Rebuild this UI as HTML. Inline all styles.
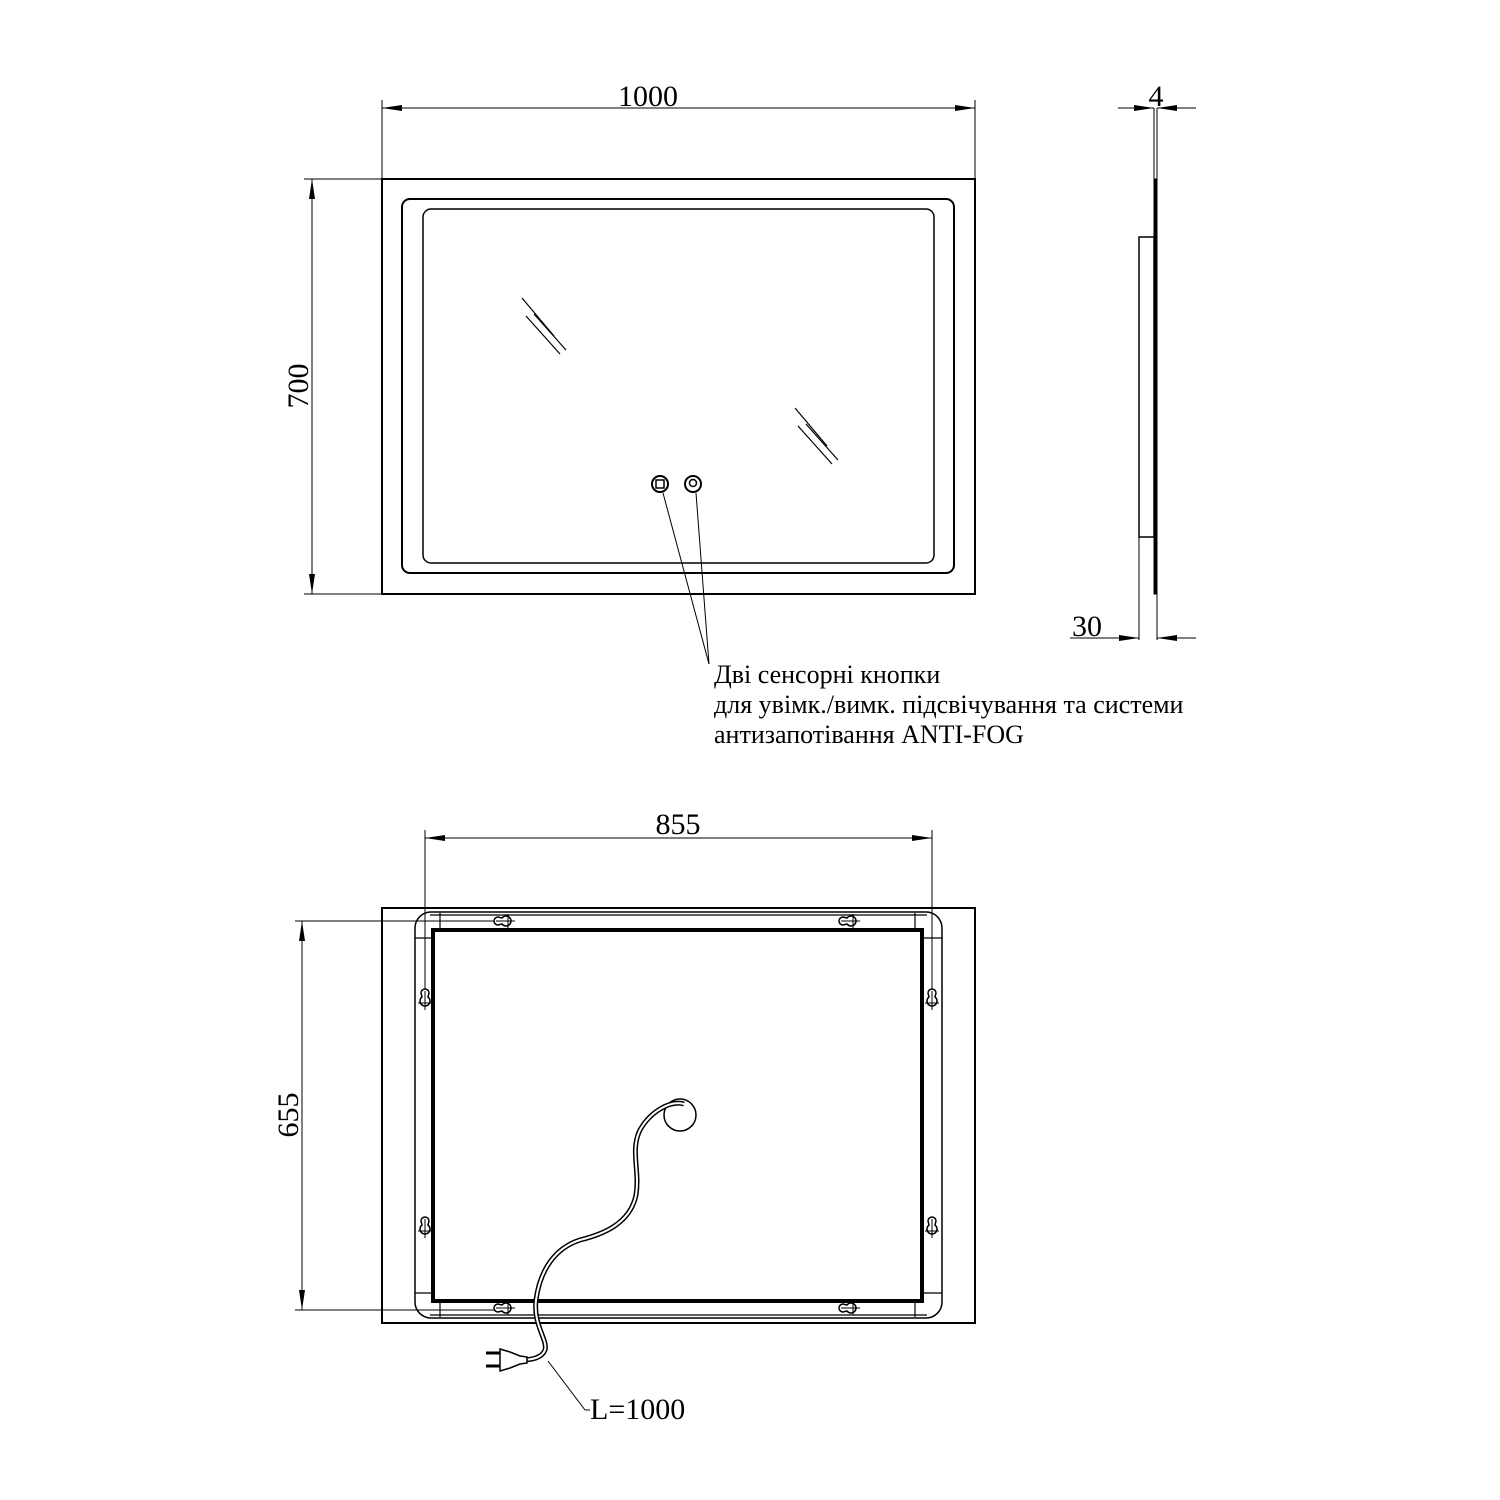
<!DOCTYPE html>
<html><head><style>html,body{margin:0;padding:0;background:#fff}svg{display:block}text{font-family:"Liberation Serif",serif;fill:#000}</style></head><body>
<svg width="1500" height="1500" viewBox="0 0 1500 1500" xmlns="http://www.w3.org/2000/svg">
<defs>
<marker id="a" viewBox="0 0 20 6" refX="20" refY="3" markerWidth="20" markerHeight="6" orient="auto-start-reverse" markerUnits="userSpaceOnUse"><path d="M0,0 L20,3 L0,6z" fill="#000"/></marker>
<g id="kh"><path d="M-4,-7 a4,4 0 0 1 8,0 l-1,4 a5,5 0 1 1 -6,0z" fill="#fff" stroke="#000" stroke-width="1.5"/><line x1="0" y1="-9" x2="0" y2="10" stroke="#000" stroke-width="1"/><line x1="-7" y1="3" x2="7" y2="3" stroke="#000" stroke-width="1"/></g>
</defs>
<g fill="none" stroke="#000">
<rect x="382" y="179" width="593" height="415" stroke-width="2"/>
<rect x="402" y="199" width="552" height="374" rx="8" stroke-width="2"/>
<rect x="423" y="209" width="511" height="354" rx="8" stroke-width="1.5"/>
<g stroke-width="1.2">
<line x1="522" y1="298" x2="554" y2="336"/><line x1="526" y1="316" x2="560" y2="354"/><line x1="534" y1="314" x2="566" y2="350"/>
<line x1="795" y1="408" x2="827" y2="446"/><line x1="798" y1="426" x2="832" y2="464"/><line x1="806" y1="424" x2="838" y2="460"/>
</g>
<circle cx="660" cy="484" r="8" stroke-width="2"/><rect x="656" y="480" width="8" height="8" stroke-width="1.5"/>
<circle cx="693" cy="484" r="8" stroke-width="2"/><circle cx="693" cy="483" r="3.5" stroke-width="1.5"/>
<line x1="663" y1="493" x2="709" y2="664" stroke-width="1"/><line x1="696" y1="493" x2="709" y2="664" stroke-width="1"/>
<line x1="382" y1="100" x2="382" y2="179" stroke-width="1"/><line x1="975" y1="100" x2="975" y2="179" stroke-width="1"/>
<line x1="382" y1="108" x2="975" y2="108" stroke-width="1" marker-start="url(#a)" marker-end="url(#a)"/>
<line x1="304" y1="179" x2="382" y2="179" stroke-width="1"/><line x1="304" y1="594" x2="382" y2="594" stroke-width="1"/>
<line x1="312" y1="179" x2="312" y2="594" stroke-width="1" marker-start="url(#a)" marker-end="url(#a)"/>
<line x1="1154" y1="108" x2="1154" y2="179" stroke-width="1"/><line x1="1157" y1="108" x2="1157" y2="179" stroke-width="1"/>
<rect x="1154" y="179" width="3" height="415" fill="#000" stroke-width="1"/>
<rect x="1139" y="237" width="15" height="300" stroke-width="1.5"/>
<line x1="1139" y1="537" x2="1139" y2="640" stroke-width="1"/><line x1="1157" y1="594" x2="1157" y2="640" stroke-width="1"/>
<line x1="1118" y1="108" x2="1154" y2="108" stroke-width="1" marker-end="url(#a)"/>
<line x1="1196" y1="108" x2="1157" y2="108" stroke-width="1" marker-end="url(#a)"/>
<line x1="1070" y1="638" x2="1139" y2="638" stroke-width="1" marker-end="url(#a)"/>
<line x1="1196" y1="638" x2="1157" y2="638" stroke-width="1" marker-end="url(#a)"/>
<rect x="382" y="908" width="593" height="415" stroke-width="2"/>
<rect x="415" y="912" width="527" height="406" rx="16" stroke-width="1.5"/>
<line x1="430" y1="915" x2="927" y2="915" stroke-width="1.2"/>
<line x1="430" y1="1315" x2="927" y2="1315" stroke-width="1.2"/>
<rect x="433" y="930" width="489" height="371" stroke-width="4"/>
<line x1="440" y1="913" x2="440" y2="930" stroke-width="1.2"/><line x1="915" y1="913" x2="915" y2="930" stroke-width="1.2"/>
<line x1="440" y1="1301" x2="440" y2="1317" stroke-width="1.2"/><line x1="915" y1="1301" x2="915" y2="1317" stroke-width="1.2"/>
<line x1="415" y1="938" x2="433" y2="938" stroke-width="1.2"/><line x1="922" y1="938" x2="942" y2="938" stroke-width="1.2"/>
<line x1="415" y1="1293" x2="433" y2="1293" stroke-width="1.2"/><line x1="922" y1="1293" x2="942" y2="1293" stroke-width="1.2"/>
<line x1="425" y1="830" x2="425" y2="1000" stroke-width="1"/><line x1="932" y1="830" x2="932" y2="1000" stroke-width="1"/>
<line x1="425" y1="838" x2="932" y2="838" stroke-width="1" marker-start="url(#a)" marker-end="url(#a)"/>
<line x1="295" y1="921" x2="505" y2="921" stroke-width="1"/><line x1="295" y1="1310" x2="505" y2="1310" stroke-width="1"/>
<line x1="302" y1="921" x2="302" y2="1310" stroke-width="1" marker-start="url(#a)" marker-end="url(#a)"/>
<circle cx="680" cy="1115" r="16" stroke-width="1.5"/>
<path d="M684,1104 C670,1100 650,1112 640,1130 C630,1150 640,1170 636,1195 C630,1225 600,1235 580,1240 C555,1248 540,1270 536,1300 C533,1325 548,1340 545,1350 C542,1358 532,1360 520,1360" stroke-width="5"/>
<path d="M684,1104 C670,1100 650,1112 640,1130 C630,1150 640,1170 636,1195 C630,1225 600,1235 580,1240 C555,1248 540,1270 536,1300 C533,1325 548,1340 545,1350 C542,1358 532,1360 520,1360" stroke="#fff" stroke-width="2"/>
<path d="M500,1349 L510,1352 L520,1356 L527,1357 L527,1363 L520,1364 L510,1368 L500,1371z" fill="#fff" stroke-width="1.5"/>
<line x1="486" y1="1353" x2="500" y2="1353" stroke-width="3"/><line x1="486" y1="1366" x2="500" y2="1366" stroke-width="3"/>
<line x1="548" y1="1361" x2="585" y2="1410" stroke-width="1"/><line x1="585" y1="1410" x2="590" y2="1410" stroke-width="1"/>
</g>
<use href="#kh" transform="translate(505,921) rotate(-90)"/>
<use href="#kh" transform="translate(850,921) rotate(-90)"/>
<use href="#kh" transform="translate(505,1308) rotate(-90)"/>
<use href="#kh" transform="translate(850,1308) rotate(-90)"/>
<use href="#kh" transform="translate(425,1000)"/>
<use href="#kh" transform="translate(425,1228)"/>
<use href="#kh" transform="translate(932,1000)"/>
<use href="#kh" transform="translate(932,1228)"/>
<g font-size="30">
<text x="648" y="106" text-anchor="middle">1000</text>
<text transform="translate(308,386) rotate(-90)" text-anchor="middle">700</text>
<text x="1156" y="106" text-anchor="middle">4</text>
<text x="1087" y="636" text-anchor="middle">30</text>
<text x="678" y="834" text-anchor="middle">855</text>
<text transform="translate(298,1115) rotate(-90)" text-anchor="middle">655</text>
<text x="590" y="1419">L=1000</text>
</g>
<g font-size="26">
<text x="714" y="683">Дві сенсорні кнопки</text>
<text x="714" y="713">для увімк./вимк. підсвічування та системи</text>
<text x="714" y="743">антизапотівання ANTI-FOG</text>
</g>
</svg>
</body></html>
